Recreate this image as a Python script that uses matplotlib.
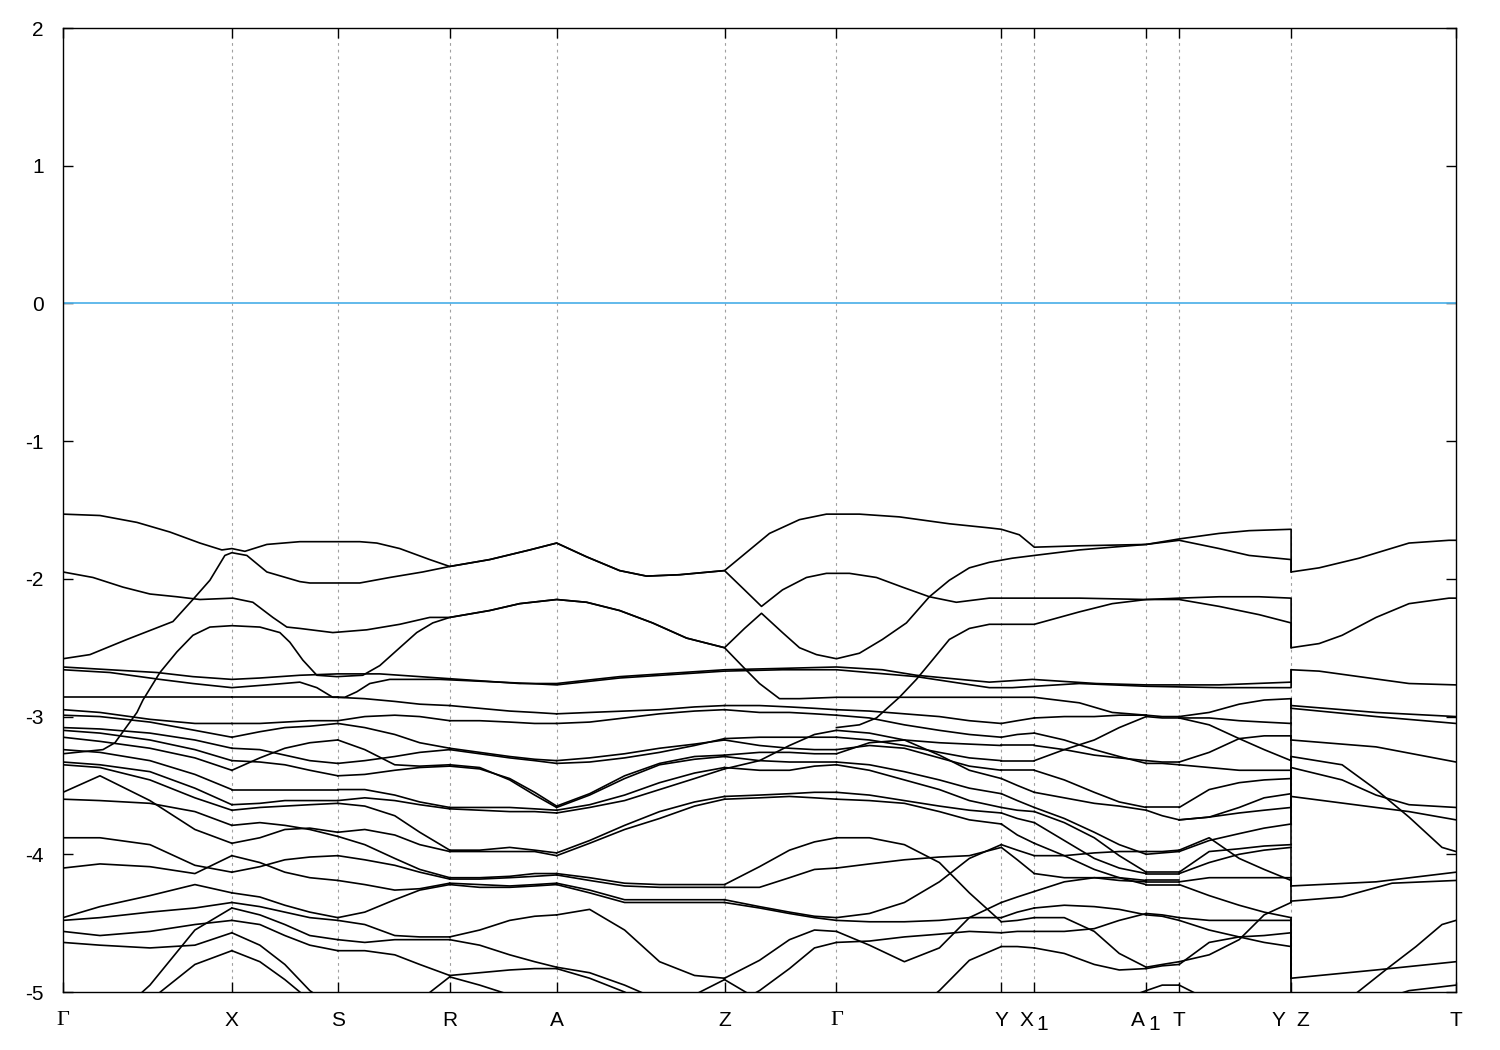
import matplotlib
matplotlib.use("Agg")
import matplotlib.pyplot as plt
from matplotlib.transforms import blended_transform_factory, ScaledTranslation

plt.rcParams['font.family'] = ['Liberation Sans', 'DejaVu Sans']
plt.rcParams['axes.unicode_minus'] = False

# ---------------- k-path ----------------
k_ticks = [0, 1.69, 2.75, 3.87, 4.94, 6.62, 7.74, 9.39, 9.72, 10.84, 11.17, 12.29, 13.94]
k_labels = ["Γ", "X", "S", "R", "A", "Z", "Γ", "Y", "X1", "A1", "T", "Y  Z", "T"]
y_ticks = [-5, -4, -3, -2, -1, 0, 1, 2]

# ---------------- global (long) bands ----------------
band1_k = [0, 0.37, 0.74, 1.07, 1.37, 1.59, 1.69, 1.82, 2.04, 2.37, 2.97, 3.14, 3.37, 3.67, 3.87, 4.27, 4.67, 4.94,
           5.24, 5.57, 5.84, 6.17, 6.62, 6.87, 7.07, 7.37, 7.64, 7.74, 7.97, 8.37, 8.87, 9.27, 9.39, 9.57, 9.72,
           10.17, 10.84, 11.17, 11.57, 11.87, 12.29, 12.29, 12.57, 12.97, 13.47, 13.87, 13.94]
band1_E = [-1.53, -1.54, -1.59, -1.66, -1.74, -1.79, -1.78, -1.80, -1.75, -1.73, -1.73, -1.74, -1.78, -1.86, -1.91,
           -1.86, -1.79, -1.74, -1.84, -1.94, -1.98, -1.97, -1.94, -1.79, -1.67, -1.57, -1.53, -1.53, -1.53, -1.55,
           -1.60, -1.63, -1.64, -1.68, -1.77, -1.76, -1.75, -1.71, -1.67, -1.65, -1.64, -1.95, -1.92, -1.85, -1.74,
           -1.72, -1.72]

band2_k = [0, 0.27, 0.64, 1.10, 1.30, 1.47, 1.62, 1.69, 1.84, 2.04, 2.37, 2.47, 2.97, 3.27, 3.60, 3.87, 4.27, 4.67,
           4.94, 5.24, 5.57, 5.84, 6.17, 6.62, 6.82, 6.99, 7.20, 7.44, 7.64, 7.87, 8.14, 8.40, 8.67, 8.94, 9.27, 9.72,
           10.17, 10.84, 11.17, 11.57, 11.97, 12.29, 12.29, 12.57, 12.80, 13.14, 13.47, 13.87, 13.94]
band2_E = [-2.58, -2.55, -2.44, -2.31, -2.15, -2.01, -1.83, -1.81, -1.83, -1.95, -2.02, -2.03, -2.03, -1.99, -1.95,
           -1.91, -1.86, -1.79, -1.74, -1.84, -1.94, -1.98, -1.97, -1.94, -2.08, -2.20, -2.08, -1.99, -1.96, -1.96,
           -1.99, -2.06, -2.13, -2.17, -2.14, -2.14, -2.14, -2.15, -2.14, -2.13, -2.13, -2.14, -2.50, -2.47, -2.41,
           -2.28, -2.18, -2.14, -2.14]

band3_k = [0, 0.30, 0.60, 0.87, 1.14, 1.37, 1.70, 1.90, 2.10, 2.24, 2.37, 2.70, 3.04, 3.37, 3.67, 3.87, 4.27, 4.57,
           4.94, 5.24, 5.57, 5.90, 6.24, 6.62, 6.82, 6.99, 7.20, 7.37, 7.54, 7.74, 7.97, 8.20, 8.44, 8.67, 8.87, 9.07,
           9.27, 9.50, 9.72, 10.17, 10.50, 10.84, 11.17, 11.57, 11.87, 12.29, 12.29]
band3_E = [-1.95, -1.99, -2.06, -2.11, -2.13, -2.15, -2.14, -2.17, -2.28, -2.35, -2.36, -2.39, -2.37, -2.33, -2.28,
           -2.28, -2.23, -2.18, -2.15, -2.17, -2.23, -2.32, -2.43, -2.50, -2.36, -2.25, -2.39, -2.50, -2.55, -2.58,
           -2.54, -2.44, -2.32, -2.13, -2.01, -1.92, -1.88, -1.85, -1.83, -1.79, -1.77, -1.75, -1.72, -1.78, -1.83,
           -1.86, -1.95]

band4_k = [0, 0.40, 0.52, 0.59, 0.67, 0.74, 0.80, 0.97, 1.14, 1.30, 1.47, 1.69, 1.97, 2.17, 2.27, 2.40, 2.54, 2.74,
           3.00, 3.17, 3.37, 3.54, 3.70, 3.87, 4.27, 4.57, 4.94, 5.24, 5.57, 5.90, 6.24, 6.62, 6.82, 6.97, 7.17, 7.37,
           7.74, 8.37, 9.27, 9.72, 10.17, 10.50, 10.84]
band4_E = [-3.27, -3.24, -3.19, -3.12, -3.04, -2.97, -2.88, -2.68, -2.53, -2.41, -2.35, -2.34, -2.35, -2.39, -2.46,
           -2.59, -2.70, -2.71, -2.70, -2.63, -2.50, -2.39, -2.32, -2.28, -2.23, -2.18, -2.15, -2.17, -2.23, -2.32,
           -2.43, -2.50, -2.65, -2.76, -2.87, -2.87, -2.86, -2.86, -2.86, -2.86, -2.90, -2.97, -2.99]

bandB_k = [7.74, 7.97, 8.14, 8.37, 8.54, 8.70, 8.87, 9.07, 9.27, 9.39, 9.72, 9.97, 10.17, 10.50, 10.84, 11.17, 11.57,
           11.97, 12.29, 12.29]
bandB_E = [-3.08, -3.06, -3.01, -2.86, -2.73, -2.59, -2.44, -2.36, -2.33, -2.33, -2.33, -2.28, -2.24, -2.18, -2.15,
           -2.15, -2.20, -2.26, -2.32, -2.50]

bandA_k = [0, 0.47, 0.94, 1.30, 1.69, 1.97, 2.37, 2.75, 3.17, 3.77, 4.57, 4.94, 5.57, 6.62, 7.20, 7.74, 8.20, 8.54,
           9.27, 9.70, 10.34, 10.84, 11.57, 12.29, 12.29, 12.57, 12.97, 13.47, 13.94]
bandA_E = [-2.64, -2.66, -2.68, -2.71, -2.73, -2.72, -2.70, -2.69, -2.69, -2.72, -2.76, -2.76, -2.71, -2.66, -2.65,
           -2.64, -2.66, -2.70, -2.75, -2.73, -2.76, -2.77, -2.77, -2.75, -2.66, -2.67, -2.71, -2.76, -2.77]

bandC_k = [0, 0.47, 0.97, 1.30, 1.69, 2.04, 2.37, 2.54, 2.70, 2.82, 2.94, 3.07, 3.27, 3.77, 4.67, 4.94, 5.57, 6.62,
           7.20, 7.74, 8.54, 9.27, 9.50, 10.17, 10.84, 11.57, 12.29, 12.29]
bandC_E = [-2.66, -2.68, -2.73, -2.76, -2.79, -2.77, -2.75, -2.79, -2.86, -2.86, -2.82, -2.76, -2.73, -2.73, -2.76,
           -2.77, -2.72, -2.67, -2.66, -2.66, -2.71, -2.79, -2.79, -2.76, -2.78, -2.79, -2.79, -2.66]

# ---------------- dense region, segment by segment ----------------
seg_GX_k = [0.0, 0.37, 0.87, 1.32, 1.69]
seg_GX_E = [
    [-2.86, -2.86, -2.86, -2.86, -2.86], [-2.95, -2.97, -3.02, -3.05, -3.05], [-2.99, -3.00, -3.04, -3.10, -3.15],
    [-3.08, -3.09, -3.12, -3.17, -3.23], [-3.10, -3.12, -3.17, -3.24, -3.32], [-3.15, -3.18, -3.23, -3.30, -3.39],
    [-3.24, -3.26, -3.32, -3.42, -3.53], [-3.33, -3.35, -3.40, -3.52, -3.64], [-3.35, -3.37, -3.46, -3.59, -3.68],
    [-3.55, -3.43, -3.61, -3.82, -3.92], [-3.60, -3.61, -3.63, -3.69, -3.79], [-3.88, -3.88, -3.93, -4.08, -4.13],
    [-4.10, -4.07, -4.09, -4.14, -4.01], [-4.46, -4.38, -4.30, -4.22, -4.28], [-4.48, -4.46, -4.42, -4.39, -4.35],
    [-5.42, -5.28, -4.95, -4.55, -4.39], [-4.56, -4.59, -4.56, -4.51, -4.48], [-4.64, -4.66, -4.68, -4.66, -4.57],
    [-5.49, -5.35, -5.06, -4.80, -4.70]]

seg_XS_k = [1.69, 1.97, 2.22, 2.47, 2.75]
seg_XS_E = [
    [-2.86, -2.86, -2.86, -2.86, -2.86], [-3.05, -3.05, -3.04, -3.03, -3.03], [-3.15, -3.11, -3.08, -3.07, -3.05],
    [-3.23, -3.24, -3.28, -3.32, -3.34], [-3.32, -3.33, -3.35, -3.39, -3.43], [-3.39, -3.30, -3.23, -3.19, -3.17],
    [-3.53, -3.53, -3.53, -3.53, -3.53], [-3.64, -3.63, -3.61, -3.61, -3.61], [-3.68, -3.66, -3.65, -3.64, -3.63],
    [-3.92, -3.88, -3.82, -3.81, -3.84], [-3.79, -3.77, -3.79, -3.82, -3.87], [-4.13, -4.09, -4.04, -4.02, -4.01],
    [-4.01, -4.06, -4.13, -4.17, -4.19], [-4.28, -4.31, -4.37, -4.42, -4.46], [-4.35, -4.38, -4.42, -4.46, -4.48],
    [-4.39, -4.44, -4.51, -4.59, -4.62], [-4.48, -4.51, -4.59, -4.66, -4.70], [-4.57, -4.66, -4.80, -4.99, -5.13],
    [-4.70, -4.78, -4.91, -5.06, -5.20]]

seg_SR_k = [2.75, 3.02, 3.32, 3.57, 3.87]
seg_SR_E = [
    [-2.86, -2.87, -2.89, -2.91, -2.92], [-3.03, -3.00, -2.99, -3.00, -3.03], [-3.05, -3.08, -3.13, -3.19, -3.23],
    [-3.34, -3.32, -3.29, -3.26, -3.24], [-3.43, -3.42, -3.39, -3.37, -3.36], [-3.17, -3.24, -3.35, -3.36, -3.35],
    [-3.53, -3.53, -3.57, -3.62, -3.66], [-3.61, -3.59, -3.61, -3.64, -3.67], [-3.63, -3.65, -3.72, -3.84, -3.97],
    [-3.84, -3.82, -3.86, -3.93, -3.98], [-3.87, -3.93, -4.03, -4.11, -4.17], [-4.01, -4.04, -4.08, -4.13, -4.18],
    [-4.19, -4.22, -4.26, -4.25, -4.21], [-4.46, -4.42, -4.33, -4.26, -4.22], [-4.48, -4.51, -4.59, -4.60, -4.60],
    [-4.62, -4.64, -4.62, -4.62, -4.62], [-4.70, -4.70, -4.73, -4.80, -4.88], [-5.13, -5.28, -5.24, -5.06, -4.89],
    [-5.20, -5.28, -5.28, -5.20, -5.13]]

seg_RA_k = [3.87, 4.17, 4.47, 4.72, 4.94]
seg_RA_E = [
    [-2.92, -2.94, -2.96, -2.97, -2.98], [-3.03, -3.03, -3.04, -3.05, -3.05], [-3.23, -3.26, -3.29, -3.31, -3.32],
    [-3.24, -3.27, -3.30, -3.32, -3.34], [-3.36, -3.38, -3.45, -3.55, -3.65], [-3.35, -3.37, -3.46, -3.57, -3.66],
    [-3.66, -3.66, -3.66, -3.67, -3.68], [-3.67, -3.68, -3.69, -3.69, -3.70], [-3.97, -3.97, -3.95, -3.97, -3.99],
    [-3.98, -3.98, -3.98, -3.98, -4.01], [-4.17, -4.17, -4.16, -4.14, -4.14], [-4.18, -4.18, -4.17, -4.16, -4.15],
    [-4.21, -4.22, -4.23, -4.22, -4.21], [-4.22, -4.24, -4.24, -4.23, -4.22], [-4.60, -4.55, -4.48, -4.45, -4.44],
    [-4.62, -4.66, -4.73, -4.78, -4.82], [-4.88, -4.86, -4.84, -4.83, -4.83], [-4.89, -4.95, -5.02, -5.10, -5.13],
    [-5.13, -5.17, -5.20, -5.20, -5.20]]

seg_AZ_k = [4.94, 5.27, 5.62, 5.97, 6.32, 6.62]
seg_AZ_E = [
    [-2.98, -2.97, -2.96, -2.95, -2.93, -2.92], [-3.05, -3.04, -3.01, -2.98, -2.96, -2.95],
    [-3.32, -3.30, -3.27, -3.23, -3.20, -3.17], [-3.34, -3.33, -3.30, -3.26, -3.21, -3.16],
    [-3.65, -3.56, -3.43, -3.34, -3.29, -3.28], [-3.66, -3.57, -3.45, -3.35, -3.31, -3.29],
    [-3.68, -3.64, -3.57, -3.48, -3.41, -3.37], [-3.70, -3.66, -3.61, -3.53, -3.45, -3.38],
    [-3.99, -3.90, -3.79, -3.69, -3.62, -3.58], [-4.01, -3.92, -3.82, -3.74, -3.65, -3.60],
    [-4.14, -4.17, -4.21, -4.22, -4.22, -4.22], [-4.15, -4.19, -4.23, -4.24, -4.24, -4.24],
    [-4.21, -4.26, -4.33, -4.33, -4.33, -4.33], [-4.22, -4.28, -4.35, -4.35, -4.35, -4.35],
    [-4.44, -4.40, -4.55, -4.78, -4.88, -4.90], [-4.82, -4.86, -4.95, -5.06, -5.10, -5.13],
    [-4.83, -4.90, -5.00, -5.13, -5.20, -5.20], [-5.13, -5.17, -5.20, -5.13, -5.02, -4.91]]

seg_ZG_k = [6.62, 6.97, 7.27, 7.52, 7.74]
seg_ZG_E = [
    [-2.92, -2.92, -2.93, -2.94, -2.95], [-2.95, -2.97, -2.97, -2.98, -2.99], [-3.17, -3.21, -3.23, -3.24, -3.24],
    [-3.16, -3.15, -3.15, -3.15, -3.15], [-3.28, -3.26, -3.26, -3.27, -3.27], [-3.29, -3.32, -3.33, -3.33, -3.33],
    [-3.37, -3.39, -3.39, -3.36, -3.35], [-3.38, -3.32, -3.21, -3.13, -3.10], [-3.58, -3.57, -3.56, -3.55, -3.55],
    [-3.60, -3.59, -3.58, -3.59, -3.60], [-4.22, -4.09, -3.97, -3.91, -3.88], [-4.24, -4.24, -4.17, -4.11, -4.10],
    [-4.33, -4.38, -4.42, -4.45, -4.46], [-4.35, -4.39, -4.43, -4.46, -4.48], [-4.90, -4.77, -4.62, -4.55, -4.56],
    [-5.13, -4.99, -4.83, -4.68, -4.64], [-4.91, -5.06, -5.20, -5.28, -5.28]]

seg_GY_k = [7.74, 8.07, 8.42, 8.77, 9.07, 9.39]
seg_GY_E = [
    [-2.95, -2.96, -2.98, -3.00, -3.03, -3.05], [-2.99, -3.01, -3.06, -3.10, -3.13, -3.15],
    [-3.24, -3.21, -3.23, -3.30, -3.36, -3.39], [-3.15, -3.17, -3.21, -3.26, -3.30, -3.32],
    [-3.27, -3.19, -3.17, -3.19, -3.20, -3.21], [-3.33, -3.35, -3.40, -3.46, -3.52, -3.56],
    [-3.35, -3.39, -3.46, -3.53, -3.61, -3.66], [-3.10, -3.12, -3.17, -3.28, -3.39, -3.45],
    [-3.55, -3.57, -3.61, -3.65, -3.68, -3.70], [-3.60, -3.61, -3.63, -3.69, -3.75, -3.78],
    [-3.88, -3.88, -3.93, -4.06, -4.28, -4.49], [-4.46, -4.43, -4.35, -4.20, -4.03, -3.93],
    [-4.10, -4.07, -4.04, -4.02, -4.01, -3.95], [-4.48, -4.49, -4.49, -4.48, -4.46, -4.46],
    [-4.56, -4.66, -4.78, -4.68, -4.46, -4.35], [-4.64, -4.63, -4.60, -4.58, -4.56, -4.57],
    [-5.20, -5.28, -5.20, -4.99, -4.77, -4.67]]

seg_YX1_k = [9.39, 9.55, 9.72]
seg_YX1_E = [
    [-3.05, -3.03, -3.01], [-3.15, -3.13, -3.12], [-3.39, -3.39, -3.39], [-3.32, -3.32, -3.32], [-3.21, -3.21, -3.21],
    [-3.56, -3.61, -3.66], [-3.66, -3.68, -3.69], [-3.45, -3.50, -3.55], [-3.70, -3.74, -3.77], [-3.78, -3.86, -3.92],
    [-4.49, -4.48, -4.46], [-3.93, -3.97, -4.01], [-3.95, -4.04, -4.14], [-4.46, -4.42, -4.39], [-4.35, -4.31, -4.27],
    [-4.57, -4.56, -4.56], [-4.67, -4.67, -4.68]]

seg_X1A1_k = [9.72, 10.02, 10.32, 10.57, 10.84]
seg_X1A1_E = [
    [-3.01, -3.00, -3.00, -2.99, -2.99], [-3.12, -3.17, -3.24, -3.29, -3.34], [-3.39, -3.46, -3.55, -3.62, -3.66],
    [-3.32, -3.24, -3.17, -3.08, -3.00], [-3.21, -3.24, -3.28, -3.30, -3.32], [-3.66, -3.74, -3.84, -3.93, -4.00],
    [-3.69, -3.77, -3.88, -4.01, -4.13], [-3.55, -3.59, -3.63, -3.65, -3.68], [-3.77, -3.90, -4.03, -4.10, -4.14],
    [-3.92, -4.01, -4.11, -4.17, -4.22], [-4.46, -4.46, -4.56, -4.72, -4.82], [-4.01, -4.01, -3.99, -3.98, -3.98],
    [-4.14, -4.17, -4.17, -4.19, -4.20], [-4.39, -4.37, -4.38, -4.40, -4.44], [-4.27, -4.20, -4.17, -4.17, -4.19],
    [-4.56, -4.56, -4.54, -4.48, -4.43], [-4.68, -4.72, -4.80, -4.84, -4.83], [-5.13, -5.17, -5.13, -5.06, -4.99]]

seg_A1T_k = [10.84, 11.00, 11.17]
seg_A1T_E = [
    [-2.99, -3.00, -3.00], [-3.34, -3.34, -3.35], [-3.66, -3.66, -3.66], [-3.00, -3.01, -3.01], [-3.32, -3.33, -3.33],
    [-4.00, -3.99, -3.98], [-4.13, -4.13, -4.13], [-3.68, -3.72, -3.75], [-4.14, -4.14, -4.14], [-4.22, -4.22, -4.22],
    [-4.82, -4.80, -4.78], [-3.98, -3.98, -3.97], [-4.20, -4.20, -4.20], [-4.44, -4.45, -4.48], [-4.19, -4.19, -4.19],
    [-4.43, -4.44, -4.46], [-4.83, -4.81, -4.80], [-4.99, -4.95, -4.95]]

seg_TY_k = [11.17, 11.47, 11.77, 12.02, 12.29]
seg_TY_E = [
    [-3.00, -2.97, -2.91, -2.88, -2.87], [-3.01, -3.01, -3.03, -3.04, -3.05], [-3.01, -3.06, -3.16, -3.24, -3.32],
    [-3.33, -3.26, -3.16, -3.14, -3.14], [-3.35, -3.37, -3.39, -3.39, -3.39], [-3.66, -3.53, -3.48, -3.46, -3.45],
    [-3.75, -3.73, -3.66, -3.59, -3.56], [-3.75, -3.73, -3.70, -3.68, -3.66], [-3.97, -3.88, -4.03, -4.11, -4.19],
    [-3.98, -3.90, -3.85, -3.81, -3.78], [-4.13, -3.98, -3.96, -3.94, -3.93], [-4.14, -4.06, -4.00, -3.97, -3.95],
    [-4.20, -4.17, -4.17, -4.17, -4.17], [-4.22, -4.30, -4.37, -4.42, -4.46], [-4.46, -4.48, -4.48, -4.48, -4.48],
    [-4.48, -4.55, -4.60, -4.64, -4.67], [-4.78, -4.73, -4.62, -4.44, -4.35], [-4.80, -4.64, -4.60, -4.59, -4.57],
    [-4.95, -5.06, -5.13, -5.13, -5.13]]

# Z -> T (after the Y|Z break)
zt_lines_k = [
    [12.29, 13.14, 13.94], [12.29, 13.14, 13.94], [12.29, 13.14, 13.94],
    [12.29, 12.80, 13.14, 13.47, 13.80, 13.94], [12.29, 12.80, 13.14, 13.47, 13.94], [12.29, 13.14, 13.47, 13.94],
    [12.29, 13.14, 13.94], [12.29, 12.80, 13.30, 13.94], [12.29, 13.14, 13.94],
    [12.77, 12.94, 13.27, 13.54, 13.80, 13.94], [13.17, 13.47, 13.94]]
zt_lines_E = [
    [-2.92, -2.97, -3.00], [-2.94, -3.00, -3.05], [-3.17, -3.22, -3.33],
    [-3.29, -3.35, -3.53, -3.73, -3.95, -3.98], [-3.37, -3.46, -3.57, -3.64, -3.66], [-3.58, -3.66, -3.69, -3.75],
    [-4.23, -4.20, -4.13], [-4.34, -4.31, -4.21, -4.19], [-4.90, -4.84, -4.78],
    [-5.13, -5.01, -4.82, -4.67, -4.51, -4.48], [-5.06, -4.99, -4.95]]

# vertical jumps at the Y|Z discontinuity (energy on Y side, energy on Z side)
yz_from = [-2.87, -2.87, -3.05, -3.05, -3.14, -3.32, -3.39, -3.45, -3.56, -3.66, -3.78, -3.93, -3.95, -4.17,
           -4.19, -4.35, -4.46, -4.48, -4.57, -4.67]
yz_to = [-2.92, -2.94, -2.94, -3.17, -3.17, -3.17, -3.29, -3.29, -3.37, -3.37, -3.58, -3.58, -4.23, -4.23,
         -4.34, -4.34, -4.90, -4.90, -4.90, -5.10]

# ---------------- figure ----------------
W, H = 1500, 1050
fig = plt.figure(figsize=(W / 100, H / 100), dpi=100)
ax = fig.add_axes([63 / W, (H - 992) / H, (1456 - 63) / W, (992 - 28) / H])

line_kw = dict(color='black', lw=1.2, solid_joinstyle='round', zorder=3)

for kk, ee in [(band1_k, band1_E), (band2_k, band2_E), (band3_k, band3_E), (band4_k, band4_E),
               (bandB_k, bandB_E), (bandA_k, bandA_E), (bandC_k, bandC_E)]:
    ax.plot(kk, ee, **line_kw)

for seg_k, seg_E in [(seg_GX_k, seg_GX_E), (seg_XS_k, seg_XS_E), (seg_SR_k, seg_SR_E), (seg_RA_k, seg_RA_E),
                     (seg_AZ_k, seg_AZ_E), (seg_ZG_k, seg_ZG_E), (seg_GY_k, seg_GY_E), (seg_YX1_k, seg_YX1_E),
                     (seg_X1A1_k, seg_X1A1_E), (seg_A1T_k, seg_A1T_E), (seg_TY_k, seg_TY_E)]:
    for ee in seg_E:
        ax.plot(seg_k, ee, **line_kw)

for kk, ee in zip(zt_lines_k, zt_lines_E):
    ax.plot(kk, ee, **line_kw)

for e1, e2 in zip(yz_from, yz_to):
    ax.plot([k_ticks[11], k_ticks[11]], [e1, e2], **line_kw)

# Fermi level
ax.axhline(0, color='#56b4e9', lw=1.3, zorder=2)

# vertical dotted lines at high-symmetry points
for kx in k_ticks[1:-1]:
    ax.axvline(kx, color='#a0a0a0', lw=0.8, ls=(0, (2.5, 3.5)), zorder=1)

ax.set_xlim(k_ticks[0], k_ticks[-1])
ax.set_ylim(-5, 2)
ax.set_yticks(y_ticks)
ax.set_yticklabels([str(v) for v in y_ticks])
ax.set_xticks(k_ticks)
# subscripted labels are drawn by hand below
ax.set_xticklabels([lab if lab not in ("X1", "A1") else "" for lab in k_labels])
ax.tick_params(axis='both', direction='in', length=7, width=1.0, top=True, right=True, labelsize=15)
ax.tick_params(axis='y', pad=14)
ax.tick_params(axis='x', pad=14)
for lbl in ax.get_xticklabels():
    if lbl.get_text() == "Γ":
        lbl.set_fontfamily('Liberation Serif')
        lbl.set_fontsize(16)
for sp in ax.spines.values():
    sp.set_linewidth(1.0)

# X1 / A1 labels: letter + lowered full-size "1"
trans = blended_transform_factory(ax.transData, ax.transAxes)
for lab, kx in zip(k_labels, k_ticks):
    if lab in ("X1", "A1"):
        t_main = trans + ScaledTranslation(-8 / 100, -28 / 100, fig.dpi_scale_trans)
        ax.text(kx, 0, lab[0], transform=t_main, ha='center', va='center', fontsize=15)
        t_sub = trans + ScaledTranslation(8 / 100, -33 / 100, fig.dpi_scale_trans)
        ax.text(kx, 0, lab[1], transform=t_sub, ha='center', va='center', fontsize=15)

fig.savefig("out.png", dpi=100, facecolor='white')
